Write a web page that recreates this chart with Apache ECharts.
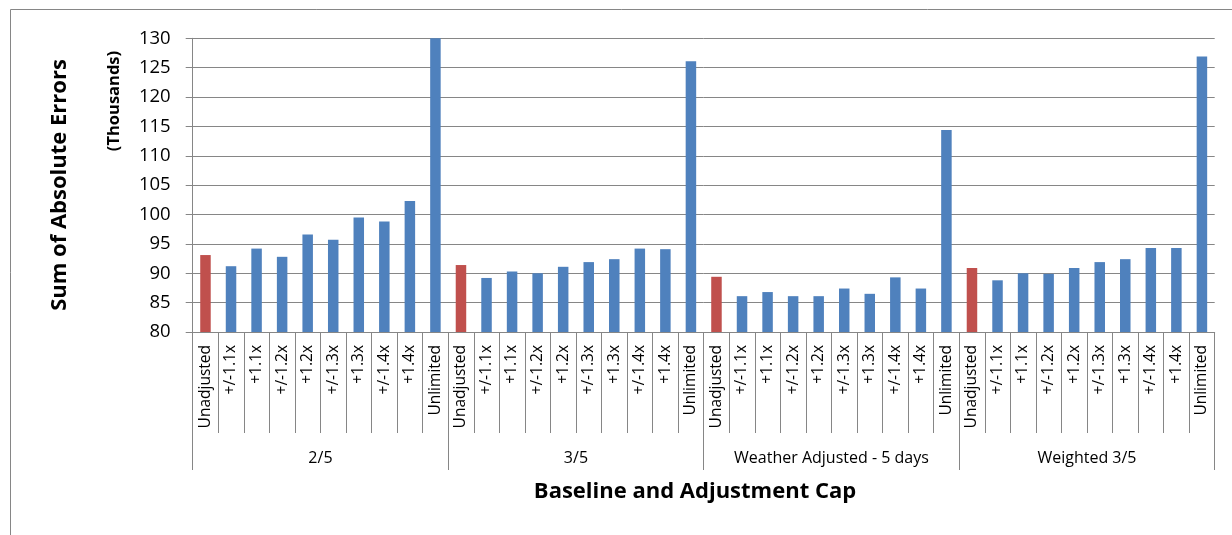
<!DOCTYPE html>
<html>
<head>
<meta charset="utf-8">
<script src="https://cdn.jsdelivr.net/npm/echarts@6/dist/echarts.min.js"></script>
<style>
  html, body { margin: 0; padding: 0; background: #ffffff; }
  #chart { width: 1232px; height: 535px; }
</style>
</head>
<body>
<div id="chart"></div>
<script>
// Baselines (outer category level) and adjustment caps (inner level)
const baselines = ['2/5', '3/5', 'Weather Adjusted - 5 days', 'Weighted 3/5'];
const caps = ['Unadjusted', '+/-1.1x', '+1.1x', '+/-1.2x', '+1.2x', '+/-1.3x', '+1.3x', '+/-1.4x', '+1.4x', 'Unlimited'];

// Sum of absolute errors, in thousands, one value per cap
const errors25       = [93.1, 91.2, 94.2, 92.8, 96.6, 95.7, 99.5, 98.8, 102.3, 130.0];
const errors35       = [91.4, 89.2, 90.3, 90.0, 91.1, 91.9, 92.4, 94.2, 94.1, 126.1];
const errorsWeather  = [89.4, 86.1, 86.8, 86.1, 86.1, 87.4, 86.5, 89.3, 87.4, 114.4];
const errorsWeighted = [90.9, 88.8, 90.0, 89.9, 90.9, 91.9, 92.4, 94.3, 94.3, 126.9];

// Value axis range
const yMin = 80, yMax = 130, yStep = 5;

const FONT = 'Open Sans';
const BLUE = '#4F81BD';
const RED = '#C0504D';
const LINE = '#868686';

const groups = [errors25, errors35, errorsWeather, errorsWeighted];
const categories = [];
const barData = [];
groups.forEach(function (vals) {
  vals.forEach(function (v, i) {
    categories.push(caps[i]);
    barData.push({ value: v, itemStyle: { color: caps[i] === 'Unadjusted' ? RED : BLUE } });
  });
});

const chart = echarts.init(document.getElementById('chart'), null, { renderer: 'canvas' });

chart.setOption({
  animation: false,
  backgroundColor: '#ffffff',
  grid: { left: 192.7, right: 17.3, top: 38.3, bottom: 203, containLabel: false },
  xAxis: [
    {
      type: 'category',
      data: categories,
      position: 'bottom',
      boundaryGap: true,
      axisLine: { show: true, lineStyle: { color: LINE, width: 1 } },
      axisTick: { show: true, interval: 0, length: 101, lineStyle: { color: LINE, width: 1 } },
      axisLabel: {
        interval: 0, rotate: 90, margin: 13,
        fontFamily: FONT, fontSize: 15.5, color: '#000000'
      },
      splitLine: { show: false }
    },
    {
      type: 'category',
      data: baselines,
      position: 'bottom',
      offset: 101,
      boundaryGap: true,
      axisLine: { show: false },
      axisTick: { show: true, interval: 0, length: 37, lineStyle: { color: LINE, width: 1 } },
      axisLabel: {
        interval: 0, margin: 17,
        fontFamily: FONT, fontSize: 16, color: '#000000'
      },
      splitLine: { show: false }
    }
  ],
  yAxis: {
    type: 'value',
    min: yMin, max: yMax, interval: yStep,
    axisLine: { show: true, lineStyle: { color: LINE, width: 1 } },
    axisTick: { show: true, length: 7, lineStyle: { color: LINE, width: 1 } },
    axisLabel: { margin: 22, fontFamily: FONT, fontSize: 18.5, color: '#000000' },
    splitLine: { show: true, lineStyle: { color: LINE, width: 1 } }
  },
  series: [
    {
      type: 'bar',
      xAxisIndex: 0,
      data: barData,
      barWidth: 10.5,
      clip: true
    }
  ],
  graphic: [
    {
      type: 'rect',
      silent: true,
      shape: { x: 10.5, y: 9.5, width: 1400, height: 700 },
      style: { fill: 'none', stroke: LINE, lineWidth: 1 }
    },
    {
      type: 'text',
      x: 60, y: 185, rotation: Math.PI / 2,
      style: {
        text: 'Sum of Absolute Errors', fontFamily: FONT, fontWeight: 'bold', fontSize: 22,
        fill: '#000000', align: 'center', verticalAlign: 'middle'
      }
    },
    {
      type: 'text',
      x: 114, y: 101, rotation: Math.PI / 2,
      style: {
        text: '(Thousands)', fontFamily: FONT, fontWeight: 'bold', fontSize: 16.5,
        fill: '#000000', align: 'center', verticalAlign: 'middle'
      }
    },
    {
      type: 'text',
      x: 695, y: 492,
      style: {
        text: 'Baseline and Adjustment Cap', fontFamily: FONT, fontWeight: 'bold', fontSize: 22,
        fill: '#000000', align: 'center', verticalAlign: 'middle'
      }
    }
  ]
});
</script>
</body>
</html>
